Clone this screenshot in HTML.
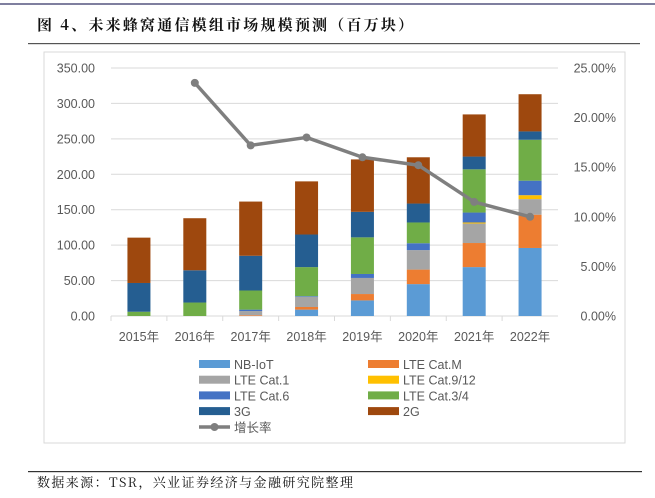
<!DOCTYPE html>
<html><head><meta charset="utf-8"><style>
body{margin:0;background:#fff;width:655px;height:498px;overflow:hidden;font-family:"Liberation Sans","Noto Sans CJK SC",sans-serif}
svg{position:absolute;left:0;top:0}
</style></head><body>
<svg width="655" height="498">
<rect x="0" y="3" width="655" height="2" fill="#7f7f9f"/>
<text x="37" y="30" font-size="15" font-weight="bold" fill="#111" letter-spacing="2.2" font-family="'Noto Serif CJK SC','Liberation Serif',serif">图 4、未来蜂窝通信模组市场规模预测（百万块）</text>
<rect x="28" y="43" width="612" height="1.2" fill="#555"/>
<rect x="44" y="52" width="581" height="391" fill="none" stroke="#d9d9d9"/>
<g id="grid"></g><g id="bars"></g><g id="line"></g><g id="axes"></g>
<g id="legend" font-size="12.5" fill="#595959"></g>
<rect x="28" y="471" width="614" height="1.2" fill="#333"/>
<text x="37" y="487" font-size="13" fill="#111" letter-spacing="1.4" font-family="'Noto Serif CJK SC','Liberation Serif',serif">数据来源：TSR，兴业证券经济与金融研究院整理</text>
</svg>
<script>
const categories=["2015年","2016年","2017年","2018年","2019年","2020年","2021年","2022年"];
const seriesNames=["NB-IoT","LTE Cat.M","LTE Cat.1","LTE Cat.9/12","LTE Cat.6","LTE Cat.3/4","3G","2G"];
const nbiot=[0,0,0,9,22,45,69,96];
const catM=[0,0,1,3.7,9,20.5,34,47];
const cat1=[0,0,6,14.3,22.7,27.5,27.5,22];
const cat912=[0,0,0,0,0,0,1.5,5.5];
const cat6=[0,0,2,1,5.6,9.7,14,20.5];
const cat34=[6,19,27,41,51.7,29.3,61,57.7];
const g3=[40.6,45.5,49,46,36,26.7,18,11.8];
const g2=[64,73.5,76.5,75,74,65.3,59.5,52.5];
const growth=[null,23.5,17.2,18.0,16.0,15.2,11.5,10.0];
const leftTicks=["0.00","50.00","100.00","150.00","200.00","250.00","300.00","350.00"];
const rightTicks=["0.00%","5.00%","10.00%","15.00%","20.00%","25.00%"];
const colors=["#5b9bd5","#ed7d31","#a5a5a5","#ffc000","#4472c4","#70ad47","#255e91","#9e480e"];
const NS="http://www.w3.org/2000/svg";
const X0=111,X1=558,Y0=316,Y1=68;
const bw=(X1-X0)/categories.length;
const y=v=>Y0-(v/350)*(Y0-Y1);
const yr=p=>Y0-(p/25)*(Y0-Y1);
const cx=i=>X0+bw*(i+0.5);
function mk(tag,attrs,parent,txt){const e=document.createElementNS(NS,tag);for(const k in attrs)e.setAttribute(k,attrs[k]);if(txt!==undefined)e.textContent=txt;document.getElementById(parent).appendChild(e);return e;}
leftTicks.forEach((t,i)=>{const v=i*50;
 const g=mk('line',{x1:X0,x2:X1,y1:y(v),y2:y(v),stroke:'#d9d9d9','stroke-width':1},'grid');
 
 
 const l=mk('text',{x:95,y:y(v)+4.5,'text-anchor':'end','font-size':12.5,fill:'#595959'},'axes',t);
 
 
});
rightTicks.forEach((t,i)=>{
 const l=mk('text',{x:616,y:yr(i*5)+4.5,'text-anchor':'end','font-size':12.5,fill:'#595959'},'axes',t);
 
 
});
const series=[nbiot,catM,cat1,cat912,cat6,cat34,g3,g2];
categories.forEach((c,i)=>{let acc=0;
 series.forEach((s,k)=>{const v=s[i];if(v>0){
  const r=mk('rect',{x:cx(i)-11.5,y:y(acc+v),width:23,height:y(acc)-y(acc+v),fill:colors[k]},'bars');
  
  
 }acc+=v;});
 const l=mk('text',{x:cx(i),y:341,'text-anchor':'middle','font-size':12.5,fill:'#595959'},'axes',c);
 
 
 const tk=mk('line',{x1:X0+bw*i,x2:X0+bw*i,y1:Y0,y2:Y0+5,stroke:'#d9d9d9'},'axes');
 
 
});
const pts=[];growth.forEach((g,i)=>{if(g!==null)pts.push([cx(i),yr(g)]);});
const pl=mk('polyline',{points:pts.map(p=>p.join(',')).join(' '),fill:'none',stroke:'#7f7f7f','stroke-width':3.5,'stroke-linejoin':'round'},'line');


pts.forEach(p=>{const m=mk('circle',{cx:p[0],cy:p[1],r:4,fill:'#7f7f7f'},'line');
 
 });
seriesNames.forEach((n,k)=>{const col=k%2,row=Math.floor(k/2);
 const sx=col?368:199,yy=364+row*15.7;
 const s=mk('rect',{x:sx,y:yy-4,width:31,height:8,fill:colors[k]},'legend');
 
 
 const t=mk('text',{x:sx+35,y:yy+5},'legend',n);
 
 
});
const ll=mk('line',{x1:199,x2:230,y1:427,y2:427,stroke:'#7f7f7f','stroke-width':3.5},'legend');


const lc=mk('circle',{cx:214.5,cy:427,r:4,fill:'#7f7f7f'},'legend');


const lt=mk('text',{x:234,y:432},'legend','增长率');


</script>
</body></html>
